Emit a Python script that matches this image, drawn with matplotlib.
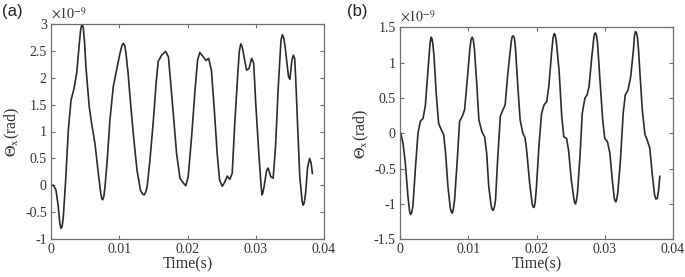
import numpy as np
import matplotlib
matplotlib.use("Agg")
import matplotlib.pyplot as plt

plt.rcParams['font.family'] = ['Liberation Serif', 'DejaVu Serif']
plt.rcParams['mathtext.fontset'] = 'stix'
plt.rcParams['axes.unicode_minus'] = False

# Panel (a): time in ms, theta_x in 1e-9 rad
t_a = [0, 0.35, 0.73, 1.07, 1.3, 1.46, 1.62, 1.8, 2.15, 2.54, 2.93, 3.37, 3.76, 4.15, 4.35,
       4.55, 4.73, 4.92, 5.12, 5.6, 5.95, 6.44, 6.93, 7.27, 7.42, 7.56, 7.72, 7.9, 8.24, 8.63,
       9.12, 9.6, 10.1, 10.4, 10.6, 10.8, 10.98, 11.3, 11.7, 12.15, 12.6, 13.1, 13.4, 13.66,
       13.9, 14.1, 14.5, 15.0, 15.4, 15.7, 16.2, 16.8, 17.2, 17.5, 18.0, 18.4, 18.9, 19.4,
       19.75, 20.1, 20.6, 21.1, 21.48, 21.8, 22.3, 22.7, 23.1, 23.5, 23.9, 24.35, 24.7, 25.1,
       25.5, 25.82, 26.2, 26.55, 26.9, 27.4, 27.6, 27.8, 28.0, 28.16, 28.65, 29.0, 29.4,
       29.7, 30.0, 30.45, 30.75, 30.9, 31.05, 31.2, 31.6, 31.82, 32.2, 32.55, 32.9, 33.3,
       33.7, 33.9, 34.1, 34.3, 34.8, 35.0, 35.3, 35.5, 35.7, 35.85, 36.1, 36.45, 36.8,
       36.95, 37.1, 37.3, 37.6, 37.9, 38.1, 38.3]
y_a = [0, 0.0, -0.09, -0.4, -0.72, -0.80, -0.77, -0.6, 0.1, 1.03, 1.58, 1.8, 2.08, 2.64, 2.9,
       3.0, 2.93, 2.65, 2.2, 1.46, 1.15, 0.78, 0.22, -0.13, -0.24, -0.27, -0.22, -0.05, 0.47, 1.21,
       1.83, 2.14, 2.45, 2.6, 2.64, 2.6, 2.46, 2.08, 1.46, 0.84, 0.28, -0.09, -0.16, -0.18,
       -0.12, -0.01, 0.47, 1.21, 1.9, 2.3, 2.42, 2.49, 2.39, 1.96, 1.21, 0.59, 0.13, 0.04,
       -0.01, 0.16, 0.90, 1.77, 2.33, 2.47, 2.39, 2.32, 2.36, 2.14, 1.46, 0.59, 0.1, -0.02,
       0.07, 0.17, 0.11, 0.22, 1.09, 2.14, 2.5, 2.63, 2.58, 2.48, 2.14, 2.17, 2.36,
       2.27, 1.52, 0.59, 0.05, -0.18, -0.14, -0.04, 0.28, 0.32, 0.16, 0.13, 0.72, 1.83,
       2.70, 2.8, 2.74, 2.58, 2.02, 1.97, 2.33, 2.42, 2.36, 2.0, 1.21, 0.16, -0.3,
       -0.37, -0.33, -0.15, 0.34, 0.50, 0.42, 0.22]

# Panel (b): time in ms, theta_x in 1e-9 rad
t_b = [0.1, 0.44, 0.78, 1.17, 1.4, 1.56, 1.72, 1.9, 2.24, 2.63, 2.98, 3.37, 3.7, 4.1, 4.3,
       4.44, 4.56, 4.68, 4.83, 4.98, 5.3, 5.66, 6.05, 6.4, 6.68, 7.02, 7.37, 7.5, 7.66, 7.82,
       8.0, 8.39, 8.73, 9.12, 9.46, 9.85, 10.24, 10.42, 10.58, 10.74, 10.9, 11.27, 11.56,
       12.0, 12.4, 12.7, 13.0, 13.37, 13.52, 13.66, 13.82, 14.0, 14.3, 14.7, 15.07, 15.4,
       15.8, 16.3, 16.45, 16.6, 16.75, 16.9, 17.27, 17.6, 18.0, 18.34, 18.6, 19.0, 19.37,
       19.5, 19.65, 19.8, 20.0, 20.35, 20.74, 21.1, 21.5, 21.8, 22.2, 22.42, 22.6, 22.75,
       22.9, 23.3, 23.7, 24.0, 24.4, 24.7, 25.1, 25.5, 25.6, 25.72, 25.85, 26.0, 26.4,
       26.7, 27.1, 27.4, 27.7, 28.1, 28.4, 28.52, 28.65, 28.8, 28.95, 29.3, 29.7, 30.0,
       30.4, 30.75, 31.1, 31.4, 31.5, 31.62, 31.75, 31.9, 32.3, 32.7, 33.0, 33.4, 33.8,
       34.2, 34.35, 34.5, 34.65, 34.8, 34.95, 35.1, 35.5, 35.9, 36.2, 36.6, 36.95, 37.3,
       37.5, 37.7, 37.9, 38.06]
y_b = [0, -0.14, -0.42, -0.9, -1.1, -1.15, -1.12, -1.02, -0.52, 0, 0.17, 0.21, 0.38, 0.9, 1.15,
       1.3, 1.36, 1.34, 1.25, 1.1, 0.57, 0.14, 0.05, -0.02, -0.28, -0.75, -1.06, -1.11, -1.13, -1.07,
       -0.94, -0.38, 0.17, 0.24, 0.33, 0.75, 1.2, 1.33, 1.36, 1.32, 1.2, 0.66, 0.19,
       0.02, -0.05, -0.28, -0.75, -1.03, -1.08, -1.09, -1.05, -0.94, -0.38, 0.24, 0.33, 0.4,
       0.85, 1.3, 1.37, 1.38, 1.35, 1.23, 0.66, 0.19, 0, -0.07, -0.28, -0.71, -1.0,
       -1.04, -1.05, -0.98, -0.75, -0.19, 0.28, 0.4, 0.45, 0.66, 1.13, 1.35, 1.41, 1.39,
       1.3, 0.9, 0.24, -0.05, -0.07, -0.24, -0.66, -0.94, -0.98, -1.0, -0.95, -0.85, -0.28,
       0.28, 0.5, 0.54, 0.66, 1.08, 1.35, 1.41, 1.42, 1.38, 1.27, 0.75, 0.19, -0.07,
       -0.12, -0.28, -0.66, -0.92, -0.95, -0.97, -0.93, -0.85, -0.38, 0.28, 0.54, 0.61, 0.8,
       1.18, 1.38, 1.44, 1.42, 1.35, 1.18, 0.94, 0.33, -0.02, -0.09, -0.21, -0.57, -0.87,
       -0.93, -0.92, -0.8, -0.61]

xticks = [0, 0.01, 0.02, 0.03, 0.04]
xticklabels = ['0', '0.01', '0.02', '0.03', '0.04']
yticks_a = [-1, -0.5, 0, 0.5, 1, 1.5, 2, 2.5, 3]
yticklabels_a = ['-1', '-0.5', '0', '0.5', '1', '1.5', '2', '2.5', '3']
yticks_b = [-1.5, -1, -0.5, 0, 0.5, 1, 1.5]
yticklabels_b = ['-1.5', '-1', '-0.5', '0', '0.5', '1', '1.5']

fig = plt.figure(figsize=(6.85, 2.77), dpi=100)
ax_a = fig.add_axes([51/685, 38/277, 273/685, 215/277])
ax_b = fig.add_axes([400/685, 37.7/277, 273/685, 212/277])

edge = '#6e6e6e'
line_c = '#2b2b2b'

def style(ax, t, y, yticks, ylabels, ylim):
    ax.plot(np.array(t) * 1e-3, y, color=line_c, lw=1.2, solid_joinstyle='round')
    ax.set_xlim(0, 0.04)
    ax.set_ylim(*ylim)
    ax.set_xticks(xticks)
    ax.set_xticklabels(xticklabels)
    ax.set_yticks(yticks)
    ax.set_yticklabels(ylabels)
    ax.tick_params(direction='in', top=True, right=True, length=3, width=0.8,
                   colors=edge, labelcolor='#333333', labelsize=10, pad=3)
    for s in ax.spines.values():
        s.set_color(edge)
        s.set_linewidth(0.9)
    ax.set_xlabel('Time(s)', fontsize=11.5, color='#333333', labelpad=0)
    ax.set_ylabel(r'$\mathit{\Theta}_{\mathrm{x}}$(rad)', fontsize=11.5, color='#333333', labelpad=2)
    ax.text(0.0, 1.012, r'$\times 10^{\mathrm{-9}}$', transform=ax.transAxes,
            fontsize=10, color='#333333', ha='left', va='bottom')

style(ax_a, t_a, y_a, yticks_a, yticklabels_a, (-1, 3))
style(ax_b, t_b, y_b, yticks_b, yticklabels_b, (-1.5, 1.5))

fig.text(2/685, 1 - 4/277, '(a)', fontsize=12, family='Liberation Sans', va='top', ha='left', color='#222222')
fig.text(347/685, 1 - 4/277, '(b)', fontsize=12, family='Liberation Sans', va='top', ha='left', color='#222222')

fig.savefig('out.png', dpi=100)
